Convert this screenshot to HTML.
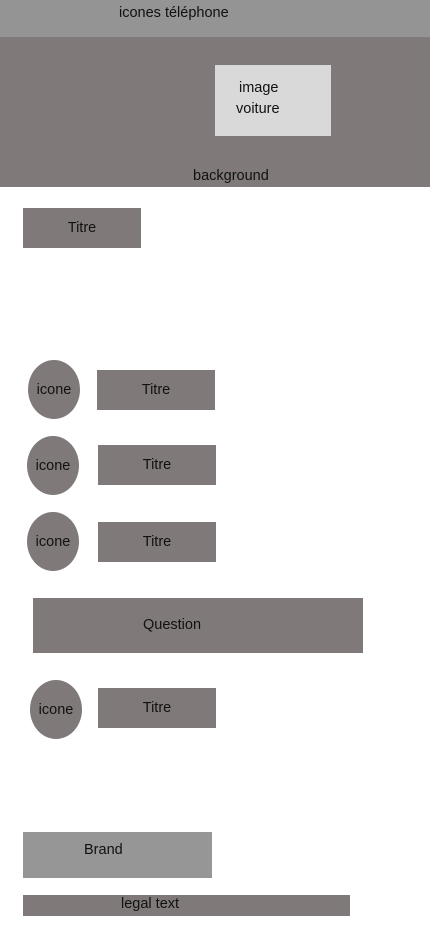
<!DOCTYPE html>
<html><head><meta charset="utf-8"><style>
body{margin:0;width:430px;height:932px;background:#fff;position:relative;overflow:hidden;font-family:"Liberation Sans",sans-serif;font-size:14.5px;color:#111}
div{position:absolute;box-sizing:border-box}
.g{background:#7f7a79}
.c{display:flex;align-items:center;justify-content:center}
.e{border-radius:50%}
</style></head><body>
<div style="left:0;top:0;width:430px;height:37px;background:#949494"></div>
<div style="left:119px;top:5px">icones téléphone</div>
<div class="g" style="left:0;top:37px;width:430px;height:150px"></div>
<div style="left:215px;top:65px;width:116px;height:71px;background:#d9d9d9"></div>
<div style="left:239px;top:80px">image</div>
<div style="left:236px;top:101px">voiture</div>
<div style="left:193px;top:168px">background</div>
<div class="g c" style="left:23px;top:208px;width:118px;height:40px">Titre</div>
<div class="g c e" style="left:28px;top:360px;width:52px;height:59px">icone</div>
<div class="g c" style="left:97px;top:370px;width:118px;height:40px">Titre</div>
<div class="g c e" style="left:27px;top:436px;width:52px;height:59px">icone</div>
<div class="g c" style="left:98px;top:445px;width:118px;height:40px">Titre</div>
<div class="g c e" style="left:27px;top:512px;width:52px;height:59px">icone</div>
<div class="g c" style="left:98px;top:522px;width:118px;height:40px">Titre</div>
<div class="g" style="left:33px;top:598px;width:330px;height:55px"></div>
<div style="left:143px;top:617px">Question</div>
<div class="g c e" style="left:30px;top:680px;width:52px;height:59px">icone</div>
<div class="g c" style="left:98px;top:688px;width:118px;height:40px">Titre</div>
<div style="left:23px;top:832px;width:189px;height:46px;background:#969696"></div>
<div style="left:84px;top:842px">Brand</div>
<div class="g" style="left:23px;top:895px;width:327px;height:21px"></div>
<div style="left:121px;top:896px">legal text</div>
</body></html>
